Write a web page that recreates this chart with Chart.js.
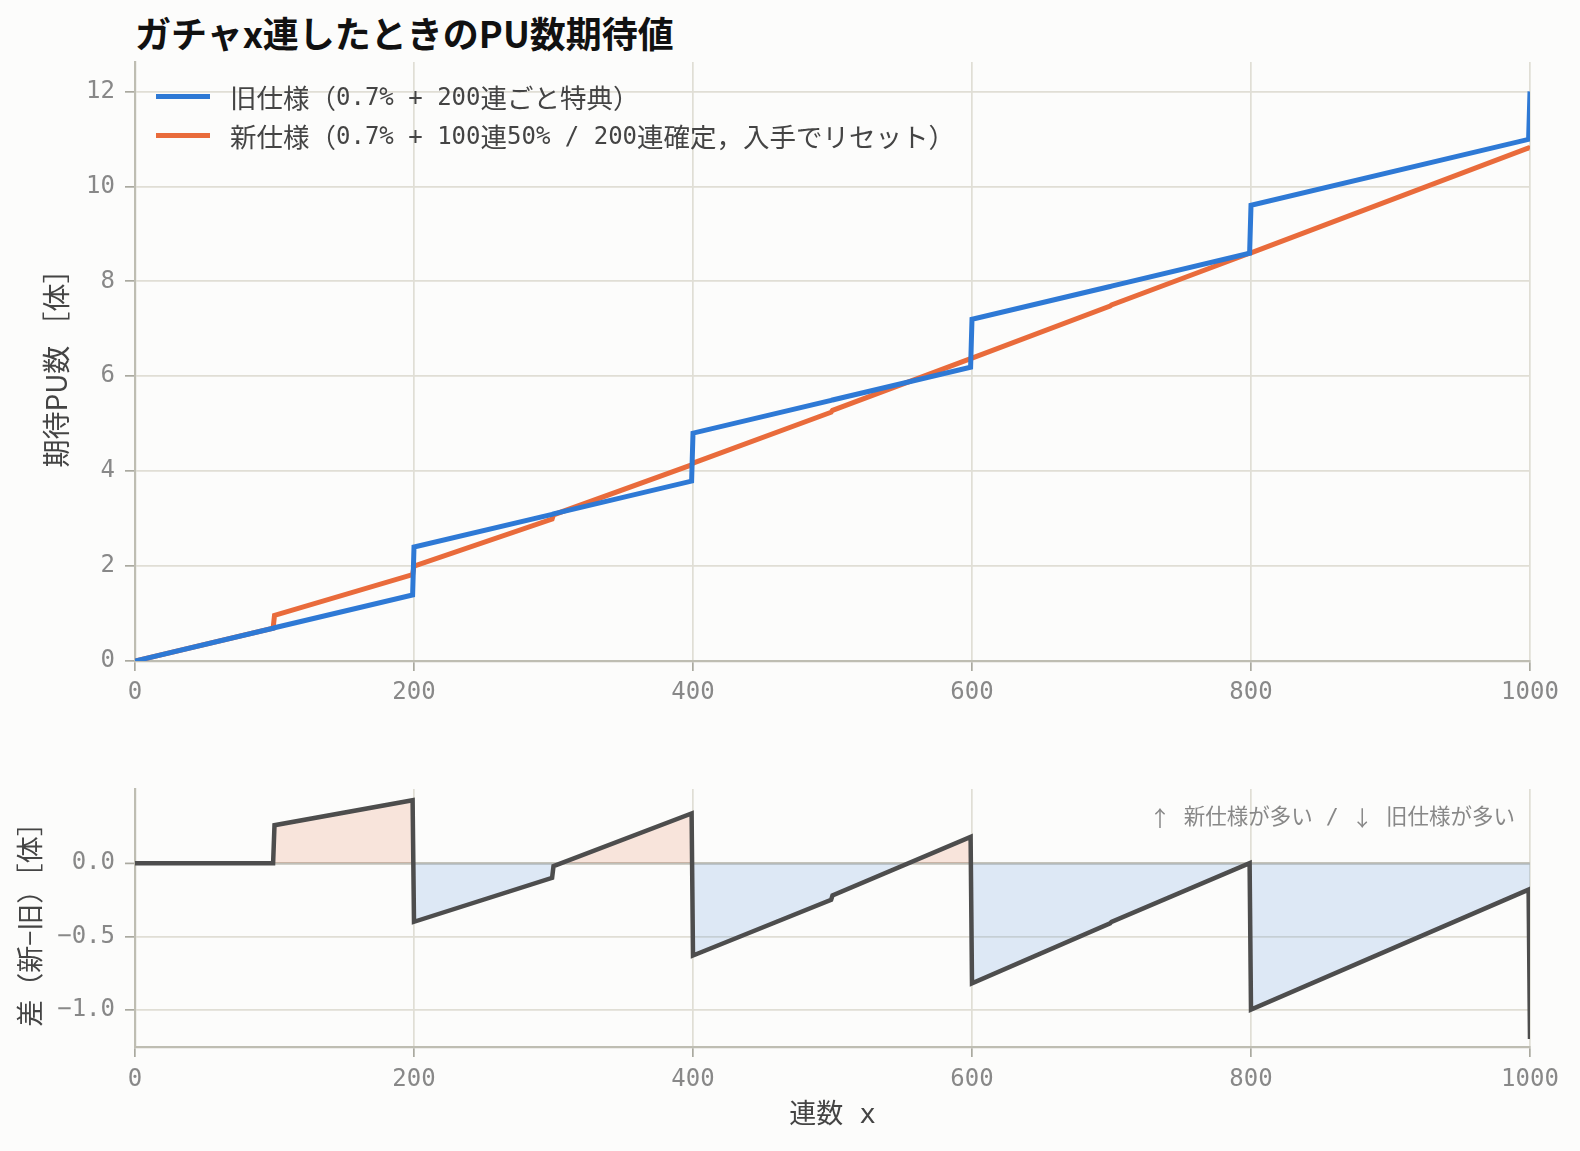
<!DOCTYPE html>
<html lang="ja">
<head>
<meta charset="UTF-8" />
<title>ガチャx連したときのPU数期待値</title>
<script src="https://cdn.jsdelivr.net/npm/chart.js"></script>
<style>
  body {
    margin: 0;
    width: 1580px;
    height: 1151px;
    overflow: hidden;
    position: relative;
    background: #fcfcfb;
    font-family: "DejaVu Sans Mono", "Noto Sans CJK JP", monospace;
  }
  h1 {
    position: absolute;
    left: 135px;
    top: 6px;
    margin: 0;
    font: bold 36px "Noto Sans CJK JP", sans-serif;
    color: #111;
  }
  #top-wrap { position: absolute; left: 0; top: 0; width: 1580px; height: 720px; }
  #bottom-wrap { position: absolute; left: 0; top: 740px; width: 1580px; height: 411px; }
  .legend { position: absolute; left: 156px; top: 77px; font-size: 24px; color: #444; }
  .legend .row { height: 39px; display: flex; align-items: center; white-space: pre; }
  .legend .line { width: 54px; height: 5px; margin-right: 20px; }
  .legend .cjk { font-family: "Noto Sans CJK JP", sans-serif; font-size: 26.5px; }
</style>
</head>
<body>

<h1>ガチャx連したときのPU数期待値</h1>

<div id="top-wrap"><canvas id="chart-top"></canvas></div>
<div id="bottom-wrap"><canvas id="chart-diff"></canvas></div>

<div class="legend">
  <div class="row"><span class="line" style="background:#2e79d5"></span><span class="cjk">旧仕様（</span>0.7% + 200<span class="cjk">連ごと特典）</span></div>
  <div class="row"><span class="line" style="background:#e96b3b"></span><span class="cjk">新仕様（</span>0.7% + 100<span class="cjk">連</span>50% / 200<span class="cjk">連確定，入手でリセット）</span></div>
</div>

<script>
  // 読み取った値（連数ごとの折れ点）
  const pulls      = [0, 99, 100, 199, 200, 299, 300, 399, 400, 499, 500, 599, 600, 699, 700, 799, 800, 999, 1000];
  const oldSpec    = [0, 0.69, 0.70, 1.39, 2.40, 3.09, 3.10, 3.79, 4.80, 5.49, 5.50, 6.19, 7.20, 7.89, 7.90, 8.59, 9.60, 10.99, 12.00];
  const newSpec    = [0, 0.69, 0.96, 1.82, 2.00, 2.99, 3.08, 4.13, 4.17, 5.24, 5.28, 6.37, 6.38, 7.48, 7.50, 8.59, 8.60, 10.81, 10.80];
  const diffValues = [0, 0, 0.26, 0.43, -0.40, -0.10, -0.02, 0.34, -0.63, -0.25, -0.22, 0.18, -0.82, -0.41, -0.40, 0.00, -1.00, -0.18, -1.20];

  const xTicks = [0, 200, 400, 600, 800, 1000];
  const topYTicks = [0, 2, 4, 6, 8, 10, 12];
  const diffYTicks = [-1.0, -0.5, 0.0];

  const toPoints = ys => pulls.map((x, i) => ({ x: x, y: ys[i] }));

  const monoFamily = '"DejaVu Sans Mono", "Noto Sans CJK JP", monospace';
  const cjkFamily = '"Noto Sans CJK JP", sans-serif';
  Chart.defaults.font.family = monoFamily;
  Chart.defaults.color = '#888';
  Chart.defaults.animation = false;

  const gridColor = '#e0ded5';
  const spineColor = '#bebdb2';
  const tickColor = '#aaa99f';

  function xScale(height, pad, title) {
    return {
      type: 'linear',
      min: 0,
      max: 1000,
      afterBuildTicks: s => { s.ticks = xTicks.map(v => ({ value: v })); },
      afterFit: s => { s.height = height; },
      ticks: {
        font: { size: 24 },
        padding: pad,
        maxRotation: 0,
        autoSkip: false,
        color: '#888',
        callback: v => String(v)
      },
      grid: { color: gridColor, lineWidth: 1.7, tickLength: 10, tickColor: tickColor, tickWidth: 1.7 },
      border: { display: true, color: spineColor, width: 2.2 },
      title: title
    };
  }

  new Chart(document.getElementById('chart-top'), {
    type: 'line',
    data: {
      datasets: [
        {
          label: '旧仕様（0.7% + 200連ごと特典）',
          data: toPoints(oldSpec),
          borderColor: '#2e79d5',
          borderWidth: 5,
          pointRadius: 0,
          tension: 0
        },
        {
          label: '新仕様（0.7% + 100連50% / 200連確定，入手でリセット）',
          data: toPoints(newSpec),
          borderColor: '#e96b3b',
          borderWidth: 5,
          pointRadius: 0,
          tension: 0
        }
      ]
    },
    options: {
      responsive: true,
      maintainAspectRatio: false,
      layout: { padding: { top: 62, right: 50, left: 0, bottom: 0 } },
      plugins: { legend: { display: false }, tooltip: { enabled: false } },
      scales: {
        x: xScale(59, 7, { display: false }),
        y: {
          min: 0,
          max: 12.62,
          afterBuildTicks: s => { s.ticks = topYTicks.map(v => ({ value: v })); },
          afterFit: s => { s.width = 135; },
          ticks: { font: { size: 24 }, padding: 10, color: '#888' },
          grid: { color: gridColor, lineWidth: 1.7, tickLength: 10, tickColor: tickColor, tickWidth: 1.7 },
          border: { display: true, color: spineColor, width: 2.2 },
          title: {
            display: true,
            text: '期待PU数 ［体］',
            color: '#444',
            font: { size: 28, family: cjkFamily },
            padding: { top: 40, bottom: 0 }
          }
        }
      }
    }
  });

  // 右上の注記：矢印だけCJKフォントで描く
  const noteParts = [
    ['↑', cjkFamily], [' 新仕様が多い / ', monoFamily],
    ['↓', cjkFamily], [' 旧仕様が多い', monoFamily]
  ];
  const noteText = {
    id: 'noteText',
    afterDraw(chart) {
      const { ctx, chartArea } = chart;
      ctx.save();
      ctx.fillStyle = '#888';
      ctx.textAlign = 'left';
      ctx.textBaseline = 'middle';
      let total = 0;
      noteParts.forEach(([t, f]) => { ctx.font = '21.5px ' + f; total += ctx.measureText(t).width; });
      let x = chartArea.right - 15 - total;
      const y = chartArea.top + 29;
      noteParts.forEach(([t, f]) => {
        ctx.font = '21.5px ' + f;
        ctx.fillText(t, x, y);
        x += ctx.measureText(t).width;
      });
      ctx.restore();
    }
  };

  new Chart(document.getElementById('chart-diff'), {
    type: 'line',
    data: {
      datasets: [{
        label: '差',
        data: toPoints(diffValues),
        borderColor: '#4d4d4d',
        borderWidth: 4.5,
        pointRadius: 0,
        tension: 0,
        fill: { target: 'origin', above: 'rgba(233,107,59,0.16)', below: 'rgba(46,121,213,0.15)' }
      }]
    },
    options: {
      responsive: true,
      maintainAspectRatio: false,
      layout: { padding: { top: 49, right: 50, left: 0, bottom: 0 } },
      plugins: { legend: { display: false }, tooltip: { enabled: false } },
      scales: {
        x: xScale(104, 8, {
          display: true,
          text: '連数 x',
          color: '#444',
          font: { size: 27 },
          padding: { top: 0, bottom: 19 }
        }),
        y: {
          min: -1.255,
          max: 0.507,
          afterBuildTicks: s => { s.ticks = diffYTicks.map(v => ({ value: v })); },
          afterFit: s => { s.width = 135; },
          ticks: {
            font: { size: 24 },
            padding: 10,
            color: '#888',
            callback: v => v.toFixed(1).replace('-', '\u2212')
          },
          grid: {
            color: c => (c.tick && c.tick.value === 0) ? '#c4c3ba' : gridColor,
            lineWidth: c => (c.tick && c.tick.value === 0) ? 2.8 : 1.7,
            tickLength: 10,
            tickColor: tickColor,
            tickWidth: 1.7
          },
          border: { display: true, color: spineColor, width: 2.2 },
          title: {
            display: true,
            text: '差（新−旧）［体］',
            color: '#444',
            font: { size: 27, family: cjkFamily },
            padding: { top: 14, bottom: 0 }
          }
        }
      }
    },
    plugins: [noteText]
  });
</script>

</body>
</html>
